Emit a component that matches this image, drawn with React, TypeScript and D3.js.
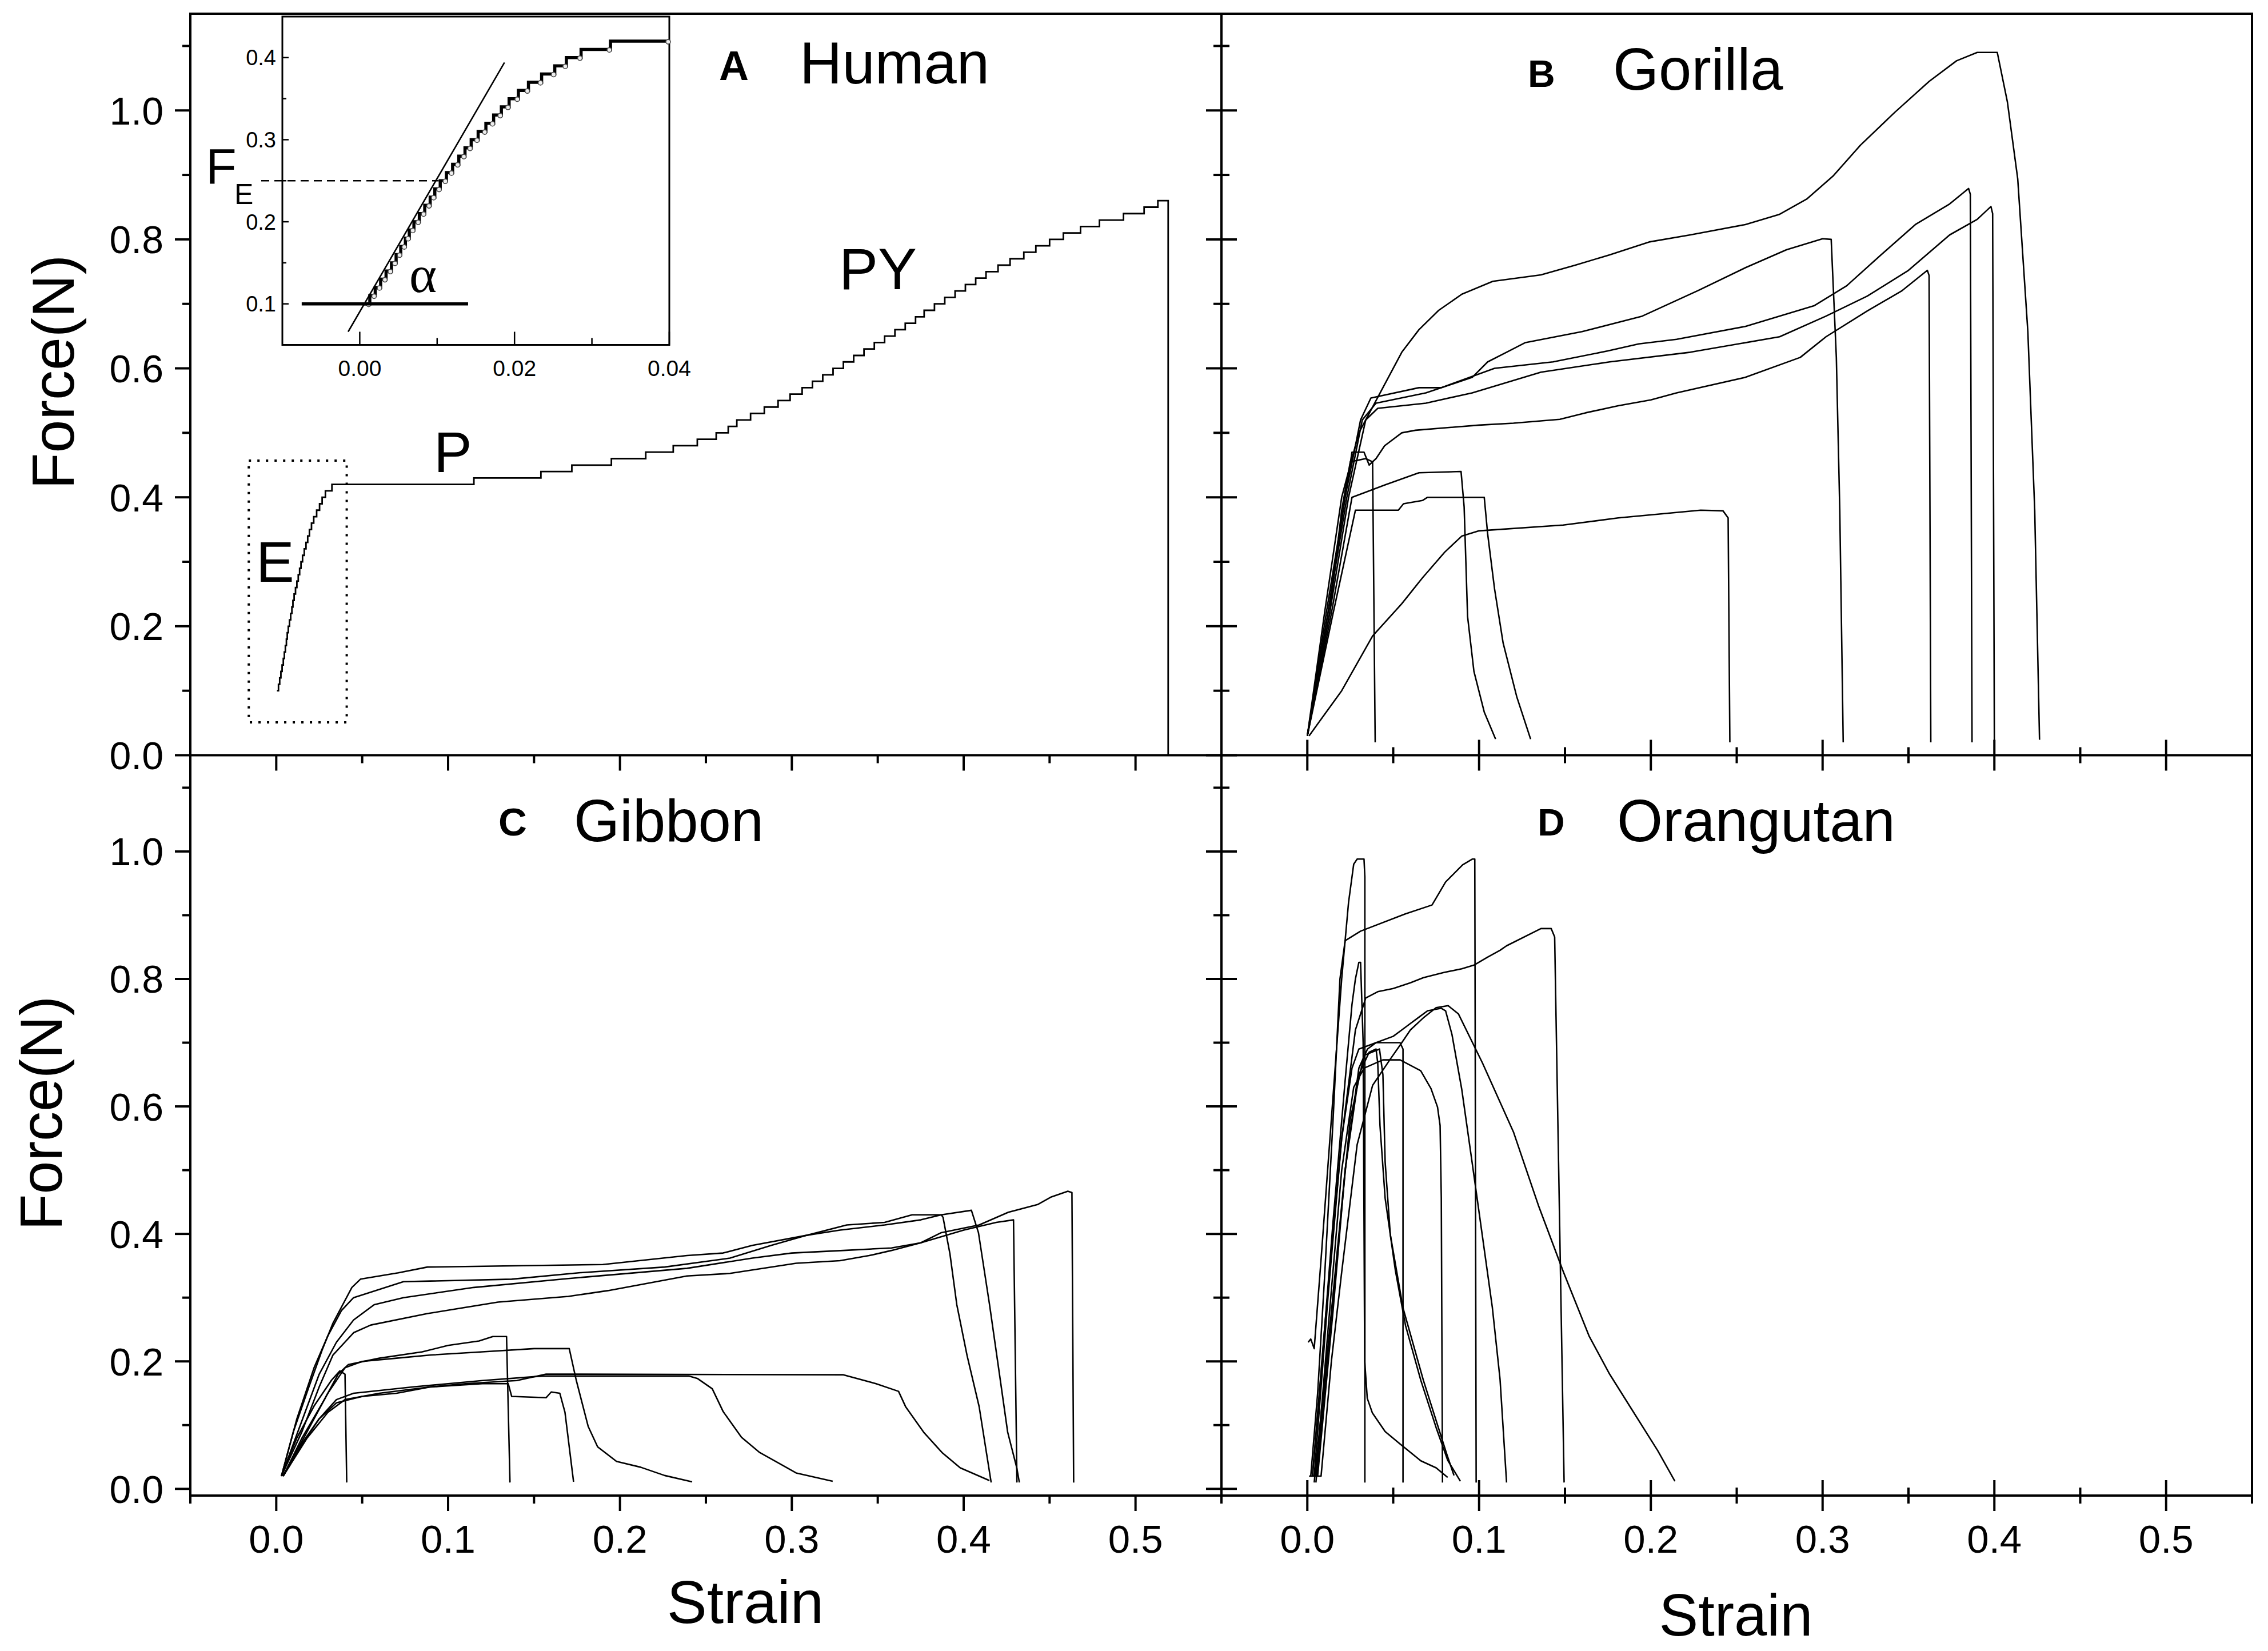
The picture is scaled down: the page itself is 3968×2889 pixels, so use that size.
import React from "react";
import * as d3 from "d3";

type Pt = [number, number];

// axis ticks
const xMajor = [0, 0.1, 0.2, 0.3, 0.4, 0.5];
const xLabels = ["0.0", "0.1", "0.2", "0.3", "0.4", "0.5"];
const xMinor = [-0.05, 0.05, 0.15, 0.25, 0.35, 0.45, 0.55];
const yMajor = [0, 0.2, 0.4, 0.6, 0.8, 1.0];
const yLabels = ["0.0", "0.2", "0.4", "0.6", "0.8", "1.0"];
const yMinor = [0.1, 0.3, 0.5, 0.7, 0.9, 1.1];

const insetXMajor = [0, 0.02, 0.04];
const insetXLabels = ["0.00", "0.02", "0.04"];
const insetXMinor = [0.01, 0.03];
const insetYMajor = [0.1, 0.2, 0.3, 0.4];
const insetYLabels = ["0.1", "0.2", "0.3", "0.4"];
const insetYMinor = [0.15, 0.25, 0.35];

// A: Human, staircase (strain where each force level starts, force)
const humanElastic: Pt[] = [
  [0.0004, 0.10], [0.0013, 0.11], [0.0020, 0.12], [0.0027, 0.13], [0.0034, 0.14],
  [0.0041, 0.15], [0.0047, 0.16], [0.0053, 0.17], [0.0059, 0.18], [0.0064, 0.19],
  [0.0070, 0.20], [0.0077, 0.21], [0.0084, 0.22], [0.0091, 0.23], [0.0097, 0.24],
  [0.0104, 0.25], [0.0112, 0.26], [0.0120, 0.27], [0.0128, 0.28], [0.0136, 0.29],
  [0.0144, 0.30], [0.0153, 0.31], [0.0163, 0.32], [0.0173, 0.33], [0.0183, 0.34],
  [0.0193, 0.35], [0.0205, 0.36], [0.0218, 0.37], [0.0235, 0.38], [0.0252, 0.39],
  [0.0267, 0.40], [0.0286, 0.41], [0.0324, 0.42],
];
const humanPlastic: Pt[] = [
  [0.115, 0.43], [0.154, 0.44], [0.172, 0.45], [0.195, 0.46], [0.215, 0.47],
  [0.231, 0.48], [0.245, 0.49], [0.256, 0.50], [0.263, 0.51], [0.268, 0.52],
  [0.276, 0.53], [0.284, 0.54], [0.292, 0.55], [0.299, 0.56], [0.306, 0.57],
  [0.312, 0.58], [0.318, 0.59], [0.324, 0.60], [0.330, 0.61], [0.336, 0.62],
  [0.342, 0.63], [0.348, 0.64], [0.354, 0.65], [0.360, 0.66], [0.366, 0.67],
  [0.372, 0.68], [0.377, 0.69], [0.383, 0.70], [0.389, 0.71], [0.395, 0.72],
  [0.401, 0.73], [0.407, 0.74], [0.413, 0.75], [0.420, 0.76], [0.427, 0.77],
  [0.435, 0.78], [0.442, 0.79], [0.450, 0.80], [0.458, 0.81], [0.468, 0.82],
  [0.479, 0.83], [0.493, 0.84], [0.505, 0.85], [0.513, 0.86], [0.519, 0.86],
  [0.519, 0.0],
];
const insetEnd: Pt = [0.04, 0.42];

// inset annotations
const tangentLine: Pt[] = [[-0.0015, 0.066], [0.0187, 0.394]];
const baseLine: Pt[] = [[-0.0075, 0.1], [0.014, 0.1]];
const feLevel = 0.25;
const feCross = 0.0102;

// B: Gorilla
const gorilla1: Pt[] = [
  [0, 0.03], [0.01, 0.22], [0.02, 0.40], [0.03, 0.50], [0.044, 0.57], [0.055, 0.625],
  [0.065, 0.66], [0.0765, 0.69], [0.09, 0.715], [0.108, 0.735], [0.136, 0.745],
  [0.156, 0.76], [0.176, 0.776], [0.199, 0.796], [0.223, 0.807], [0.255, 0.823],
  [0.275, 0.839], [0.291, 0.863], [0.306, 0.898], [0.322, 0.946], [0.342, 0.997],
  [0.362, 1.045], [0.378, 1.077], [0.39, 1.09], [0.4017, 1.09], [0.4076, 1.013],
  [0.4136, 0.894], [0.4195, 0.657], [0.4235, 0.38], [0.4263, 0.024],
];
const gorilla2: Pt[] = [
  [0, 0.03], [0.012, 0.22], [0.023, 0.40], [0.032, 0.52], [0.04, 0.546], [0.069, 0.562],
  [0.096, 0.586], [0.105, 0.61], [0.116, 0.625], [0.127, 0.64], [0.16, 0.657],
  [0.195, 0.681], [0.227, 0.72], [0.255, 0.756], [0.279, 0.784], [0.30, 0.801],
  [0.305, 0.80], [0.308, 0.617], [0.31, 0.38], [0.312, 0.02],
];
const gorilla3: Pt[] = [
  [0, 0.03], [0.011, 0.22], [0.022, 0.40], [0.031, 0.52], [0.037, 0.554], [0.065, 0.57],
  [0.078, 0.57], [0.109, 0.60], [0.143, 0.61], [0.175, 0.627], [0.193, 0.638],
  [0.215, 0.645], [0.255, 0.665], [0.295, 0.697], [0.314, 0.728], [0.334, 0.776],
  [0.354, 0.823], [0.374, 0.855], [0.385, 0.879], [0.386, 0.87], [0.387, 0.02],
];
const gorilla4: Pt[] = [
  [0, 0.03], [0.013, 0.22], [0.024, 0.40], [0.034, 0.52], [0.041, 0.538], [0.069, 0.546],
  [0.096, 0.562], [0.136, 0.594], [0.176, 0.61], [0.223, 0.625], [0.275, 0.649],
  [0.302, 0.681], [0.326, 0.712], [0.35, 0.752], [0.374, 0.807], [0.39, 0.831],
  [0.398, 0.851], [0.399, 0.84], [0.40, 0.02],
];
const gorilla5: Pt[] = [
  [0, 0.03], [0.012, 0.22], [0.022, 0.40], [0.026, 0.47], [0.033, 0.47], [0.036, 0.45],
  [0.04, 0.46], [0.045, 0.48], [0.055, 0.50], [0.063, 0.504], [0.10, 0.512],
  [0.12, 0.515], [0.147, 0.521], [0.162, 0.531], [0.181, 0.542], [0.20, 0.551],
  [0.215, 0.562], [0.255, 0.586], [0.287, 0.617], [0.302, 0.649], [0.326, 0.689],
  [0.346, 0.72], [0.361, 0.752], [0.362, 0.744], [0.363, 0.02],
];
const gorilla6: Pt[] = [
  [0.001, 0.03], [0.02, 0.10], [0.038, 0.185], [0.055, 0.235], [0.067, 0.275],
  [0.08, 0.315], [0.09, 0.34], [0.10, 0.348], [0.149, 0.357], [0.181, 0.368],
  [0.229, 0.38], [0.242, 0.379], [0.245, 0.368], [0.246, 0.02],
];
const gorilla7: Pt[] = [
  [0, 0.03], [0.013, 0.22], [0.02, 0.38], [0.025, 0.455], [0.034, 0.46], [0.038, 0.455],
  [0.0395, 0.02],
];
const gorilla8: Pt[] = [
  [0, 0.03], [0.014, 0.22], [0.026, 0.40], [0.034, 0.408], [0.045, 0.419], [0.065, 0.438],
  [0.0895, 0.44], [0.0913, 0.385], [0.0933, 0.215], [0.097, 0.13], [0.103, 0.067],
  [0.1096, 0.025],
];
const gorilla9: Pt[] = [
  [0, 0.03], [0.015, 0.22], [0.028, 0.38], [0.053, 0.38], [0.056, 0.39], [0.067, 0.395],
  [0.07, 0.40], [0.103, 0.40], [0.105, 0.343], [0.109, 0.258], [0.114, 0.174],
  [0.122, 0.09], [0.13, 0.025],
];

// C: Gibbon
const gibbon1: Pt[] = [
  [0.003, 0.02], [0.015, 0.09], [0.025, 0.16], [0.033, 0.21], [0.045, 0.245], [0.055, 0.257],
  [0.088, 0.275], [0.129, 0.293], [0.17, 0.302], [0.193, 0.311], [0.239, 0.334],
  [0.264, 0.338], [0.3025, 0.354], [0.328, 0.358], [0.345, 0.366], [0.358, 0.374],
  [0.375, 0.386], [0.387, 0.402], [0.409, 0.414], [0.426, 0.434], [0.443, 0.446],
  [0.451, 0.458], [0.4606, 0.467], [0.463, 0.465], [0.464, 0.01],
];
const gibbon2: Pt[] = [
  [0.003, 0.02], [0.014, 0.10], [0.025, 0.18], [0.035, 0.23], [0.045, 0.265], [0.057, 0.289],
  [0.074, 0.30], [0.115, 0.316], [0.17, 0.33], [0.239, 0.346], [0.277, 0.362],
  [0.30, 0.37], [0.33, 0.374], [0.358, 0.378], [0.375, 0.386], [0.40, 0.406],
  [0.419, 0.418], [0.429, 0.422], [0.431, 0.01],
];
const gibbon3: Pt[] = [
  [0.003, 0.02], [0.012, 0.11], [0.022, 0.19], [0.03, 0.24], [0.038, 0.28], [0.045, 0.30],
  [0.074, 0.325], [0.137, 0.329], [0.176, 0.339], [0.226, 0.348], [0.264, 0.362],
  [0.288, 0.382], [0.309, 0.398], [0.328, 0.406], [0.354, 0.414], [0.375, 0.422],
  [0.387, 0.43], [0.4045, 0.437], [0.4086, 0.402], [0.415, 0.29], [0.4214, 0.169],
  [0.4256, 0.089], [0.4309, 0.033], [0.4324, 0.01],
];
const gibbon4: Pt[] = [
  [0.003, 0.02], [0.01, 0.09], [0.019, 0.16], [0.027, 0.22], [0.033, 0.26], [0.044, 0.316],
  [0.049, 0.329], [0.071, 0.339], [0.088, 0.348], [0.19, 0.352], [0.239, 0.366],
  [0.26, 0.37], [0.277, 0.382], [0.309, 0.398], [0.332, 0.414], [0.354, 0.418],
  [0.37, 0.43], [0.387, 0.43], [0.388, 0.426], [0.392, 0.369], [0.396, 0.289],
  [0.402, 0.209], [0.409, 0.129], [0.416, 0.01],
];
const gibbon5: Pt[] = [
  [0.004, 0.02], [0.015, 0.08], [0.028, 0.14], [0.036, 0.18], [0.042, 0.195], [0.06, 0.205],
  [0.085, 0.215], [0.10, 0.225], [0.118, 0.232], [0.126, 0.239], [0.134, 0.239],
  [0.136, 0.01],
];
const gibbon6: Pt[] = [
  [0.004, 0.02], [0.016, 0.08], [0.03, 0.15], [0.04, 0.19], [0.05, 0.20], [0.07, 0.205],
  [0.09, 0.21], [0.12, 0.215], [0.15, 0.22], [0.1705, 0.22], [0.1746, 0.17],
  [0.1815, 0.098], [0.187, 0.066], [0.198, 0.043], [0.212, 0.034], [0.226, 0.021],
  [0.242, 0.011],
];
const gibbon7: Pt[] = [
  [0.004, 0.02], [0.015, 0.07], [0.025, 0.11], [0.035, 0.135], [0.05, 0.145], [0.07, 0.15],
  [0.09, 0.16], [0.12, 0.165], [0.135, 0.165], [0.137, 0.145], [0.157, 0.143],
  [0.16, 0.152], [0.165, 0.15], [0.168, 0.12], [0.173, 0.011],
];
const gibbon8: Pt[] = [
  [0.004, 0.02], [0.018, 0.08], [0.03, 0.12], [0.04, 0.14], [0.06, 0.15], [0.09, 0.16],
  [0.11, 0.165], [0.14, 0.17], [0.157, 0.18], [0.33, 0.179], [0.349, 0.165],
  [0.3621, 0.153], [0.3662, 0.129], [0.3767, 0.089], [0.3874, 0.057], [0.398, 0.033],
  [0.415, 0.013],
];
const gibbon9: Pt[] = [
  [0.004, 0.02], [0.012, 0.06], [0.025, 0.11], [0.035, 0.14], [0.045, 0.15], [0.08, 0.16],
  [0.12, 0.17], [0.155, 0.177], [0.24, 0.177], [0.2452, 0.173], [0.2537, 0.157],
  [0.2601, 0.121], [0.2707, 0.081], [0.2813, 0.057], [0.292, 0.041], [0.3025, 0.025],
  [0.3238, 0.012],
];
const gibbon10: Pt[] = [
  [0.003, 0.02], [0.012, 0.08], [0.022, 0.13], [0.032, 0.17], [0.037, 0.185], [0.04, 0.18],
  [0.041, 0.01],
];

// D: Orangutan
const orangutan1: Pt[] = [
  [0.0005, 0.23], [0.002, 0.235], [0.004, 0.22], [0.008, 0.36], [0.014, 0.58], [0.02, 0.80],
  [0.024, 0.92], [0.027, 0.98], [0.029, 0.988], [0.033, 0.988], [0.0335, 0.96], [0.0335, 0.01],
];
const orangutan2: Pt[] = [
  [0.003, 0.02], [0.008, 0.18], [0.015, 0.42], [0.022, 0.64], [0.026, 0.76], [0.028, 0.80],
  [0.03, 0.826], [0.031, 0.826], [0.0325, 0.70], [0.0334, 0.20], [0.0349, 0.142],
  [0.0379, 0.119], [0.0453, 0.09], [0.0542, 0.07], [0.0661, 0.044], [0.075, 0.033],
  [0.0817, 0.018],
];
const orangutan3: Pt[] = [
  [0.002, 0.02], [0.006, 0.15], [0.01, 0.33], [0.015, 0.58], [0.019, 0.80], [0.022, 0.86],
  [0.031, 0.875], [0.057, 0.902], [0.0726, 0.916], [0.0805, 0.952], [0.0904, 0.979],
  [0.096, 0.988], [0.0975, 0.988], [0.0983, 0.01],
];
const orangutan4: Pt[] = [
  [0.003, 0.02], [0.01, 0.25], [0.02, 0.55], [0.028, 0.72], [0.034, 0.77], [0.041, 0.78],
  [0.05, 0.785], [0.06, 0.794], [0.0676, 0.802], [0.0794, 0.81], [0.0899, 0.816],
  [0.0973, 0.822], [0.1048, 0.834], [0.1122, 0.845], [0.116, 0.852], [0.136, 0.879],
  [0.142, 0.879], [0.144, 0.866], [0.1495, 0.01],
];
const orangutan5: Pt[] = [
  [0.005, 0.02], [0.013, 0.28], [0.02, 0.50], [0.027, 0.63], [0.033, 0.66], [0.044, 0.673],
  [0.054, 0.673], [0.066, 0.656], [0.072, 0.628], [0.0758, 0.599], [0.0773, 0.57],
  [0.078, 0.456], [0.0787, 0.01],
];
const orangutan6: Pt[] = [
  [0.004, 0.02], [0.012, 0.30], [0.02, 0.55], [0.026, 0.66], [0.03, 0.69], [0.04, 0.70],
  [0.054, 0.70], [0.0557, 0.69], [0.0557, 0.01],
];
const orangutan7: Pt[] = [
  [0.006, 0.02], [0.015, 0.28], [0.022, 0.50], [0.03, 0.65], [0.036, 0.685], [0.04, 0.69],
  [0.041, 0.668], [0.0423, 0.57], [0.0453, 0.456], [0.0513, 0.342], [0.0572, 0.256],
  [0.0661, 0.17], [0.075, 0.096], [0.0817, 0.045], [0.0891, 0.012],
];
const orangutan8: Pt[] = [
  [0.004, 0.01], [0.013, 0.25], [0.022, 0.50], [0.03, 0.66], [0.035, 0.69], [0.04, 0.70],
  [0.05, 0.71], [0.055, 0.72], [0.06, 0.73], [0.065, 0.74], [0.07, 0.75], [0.078, 0.754],
  [0.0805, 0.75], [0.0842, 0.713], [0.0899, 0.627], [0.0959, 0.513], [0.1018, 0.399],
  [0.1077, 0.285], [0.1122, 0.172], [0.116, 0.01],
];
const orangutan9: Pt[] = [
  [0.001, 0.02], [0.008, 0.02], [0.014, 0.2], [0.02, 0.34], [0.029, 0.54], [0.038, 0.633],
  [0.048, 0.673], [0.055, 0.70], [0.06, 0.72], [0.068, 0.74], [0.075, 0.755], [0.082, 0.758],
  [0.088, 0.745], [0.102, 0.668], [0.12, 0.56], [0.1345, 0.445], [0.149, 0.341],
  [0.164, 0.24], [0.176, 0.18], [0.19, 0.12], [0.204, 0.06], [0.214, 0.012],
];
const orangutan10: Pt[] = [
  [0.005, 0.01], [0.015, 0.30], [0.025, 0.58], [0.033, 0.68], [0.042, 0.69], [0.044, 0.65],
  [0.0453, 0.513], [0.0483, 0.399], [0.0557, 0.284], [0.0676, 0.17], [0.081, 0.056],
  [0.0854, 0.021],
];

const gorillaCurves = [gorilla1, gorilla2, gorilla3, gorilla4, gorilla5, gorilla6, gorilla7, gorilla8, gorilla9];
const gibbonCurves = [gibbon1, gibbon2, gibbon3, gibbon4, gibbon5, gibbon6, gibbon7, gibbon8, gibbon9, gibbon10];
const orangutanCurves = [
  orangutan1, orangutan2, orangutan3, orangutan4, orangutan5,
  orangutan6, orangutan7, orangutan8, orangutan9, orangutan10,
];

const W = 3968;
const H = 2889;
const L = 333;
const MX = 2137;
const R = 3940;
const T = 24;
const MY = 1321.5;
const B = 2617;
const FONT = "'Liberation Sans', Arial, Helvetica, sans-serif";
const MAJ = 27;
const MIN = 14;

function Panel({ x0, x1, y0, y1, yDom, curves, stepped, leftLabels, bottomLabels, cross }: any) {
  const x = d3.scaleLinear().domain([-0.05, 0.55]).range([x0, x1]);
  const y = d3.scaleLinear().domain(yDom).range([y1, y0]);
  const lin = d3.line<Pt>().x((d) => x(d[0])).y((d) => y(d[1]));
  const stp = d3.line<Pt>().x((d) => x(d[0])).y((d) => y(d[1])).curve(d3.curveStepAfter);

  const yTick = (v: number, len: number, i: string) => (
    <line key={i} x1={x0 - len} x2={cross ? x0 + len : x0} y1={y(v)} y2={y(v)} stroke="#000" strokeWidth={4} />
  );
  const xTick = (v: number, len: number, i: string) => (
    <line key={i} x1={x(v)} x2={x(v)} y1={cross ? y1 - len : y1} y2={y1 + len} stroke="#000" strokeWidth={4} />
  );

  return (
    <g>
      {curves.map((c: Pt[], i: number) => (
        <path key={"c" + i} d={lin(c) || ""} fill="none" stroke="#000" strokeWidth={2.6} strokeLinejoin="round" />
      ))}
      {stepped &&
        stepped.map((c: Pt[], i: number) => (
          <path key={"s" + i} d={stp(c) || ""} fill="none" stroke="#000" strokeWidth={2.8} />
        ))}
      {yMajor.map((v, i) => yTick(v, MAJ, "ym" + i))}
      {yMinor.map((v, i) => yTick(v, MIN, "yn" + i))}
      {xMajor.map((v, i) => xTick(v, MAJ, "xm" + i))}
      {xMinor.map((v, i) => xTick(v, MIN, "xn" + i))}
      {leftLabels &&
        yMajor.map((v, i) => (
          <text key={"yl" + i} x={286} y={y(v)} dy="0.36em" textAnchor="end" fontSize={68} fontFamily={FONT}>
            {yLabels[i]}
          </text>
        ))}
      {bottomLabels &&
        xMajor.map((v, i) => (
          <text key={"xl" + i} x={x(v)} y={2717} textAnchor="middle" fontSize={69} fontFamily={FONT}>
            {xLabels[i]}
          </text>
        ))}
    </g>
  );
}

function Inset() {
  const x0 = 494;
  const x1 = 1171;
  const y0 = 29;
  const y1 = 603.5;
  const xi = d3.scaleLinear().domain([-0.01, 0.04]).range([x0, x1]);
  const yi = d3.scaleLinear().domain([0.05, 0.45]).range([y1, y0]);
  const data: Pt[] = [...humanElastic, insetEnd];
  const stp = d3.line<Pt>().x((d) => xi(d[0])).y((d) => yi(d[1])).curve(d3.curveStepAfter);
  const lin = d3.line<Pt>().x((d) => xi(d[0])).y((d) => yi(d[1]));
  const marks: Pt[] = [];
  data.forEach((d, i) => {
    if (i < data.length - 1) marks.push([data[i + 1][0], d[1]]);
  });
  return (
    <g>
      <rect x={x0} y={y0} width={x1 - x0} height={y1 - y0} fill="#fff" stroke="#000" strokeWidth={3} />
      {insetYMajor.map((v, i) => (
        <line key={"a" + i} x1={x0} x2={x0 + 11} y1={yi(v)} y2={yi(v)} stroke="#000" strokeWidth={2.5} />
      ))}
      {insetYMinor.map((v, i) => (
        <line key={"b" + i} x1={x0} x2={x0 + 7} y1={yi(v)} y2={yi(v)} stroke="#000" strokeWidth={2.5} />
      ))}
      {insetXMajor.map((v, i) => (
        <line key={"c" + i} x1={xi(v)} x2={xi(v)} y1={y1} y2={y1 - 23} stroke="#000" strokeWidth={2.5} />
      ))}
      {insetXMinor.map((v, i) => (
        <line key={"d" + i} x1={xi(v)} x2={xi(v)} y1={y1} y2={y1 - 12} stroke="#000" strokeWidth={2.5} />
      ))}
      {insetYMajor.map((v, i) => (
        <text key={"e" + i} x={483} y={yi(v)} dy="0.36em" textAnchor="end" fontSize={38} fontFamily={FONT}>
          {insetYLabels[i]}
        </text>
      ))}
      {insetXMajor.map((v, i) => (
        <text key={"f" + i} x={xi(v)} y={658} textAnchor="middle" fontSize={39} fontFamily={FONT}>
          {insetXLabels[i]}
        </text>
      ))}
      <path d={stp(data) || ""} fill="none" stroke="#000" strokeWidth={5.5} />
      {marks.map((d, i) => (
        <circle key={"m" + i} cx={xi(d[0]) - 2} cy={yi(d[1]) + 1} r={4} fill="#eee" stroke="#444" strokeWidth={1.6} />
      ))}
      <path d={lin(tangentLine) || ""} stroke="#000" strokeWidth={2.6} fill="none" />
      <path d={lin(baseLine) || ""} stroke="#000" strokeWidth={5.5} fill="none" />
      <line x1={457} x2={xi(feCross)} y1={yi(feLevel)} y2={yi(feLevel)} stroke="#000" strokeWidth={2.6} strokeDasharray="14,9" />
      <text x={716} y={511} fontSize={92} fontFamily="'Liberation Serif', 'Times New Roman', serif">
        α
      </text>
    </g>
  );
}

export default function App() {
  const xA = d3.scaleLinear().domain([-0.05, 0.55]).range([L, MX]);
  const yA = d3.scaleLinear().domain([0, 1.15]).range([MY, T]);
  const boxPts: Pt[] = [[-0.016, 0.051], [0.041, 0.457]];
  return (
    <svg
      width={W}
      height={H}
      viewBox={`0 0 ${W} ${H}`}
      style={{ position: "absolute", left: 0, top: 0, background: "#fff" }}
    >
      <rect x={0} y={0} width={W} height={H} fill="#fff" />
      <Panel x0={L} x1={MX} y0={T} y1={MY} yDom={[0, 1.15]} curves={[]} stepped={[[...humanElastic, ...humanPlastic]]} leftLabels cross={false} />
      <Panel x0={MX} x1={R} y0={T} y1={MY} yDom={[0, 1.15]} curves={gorillaCurves} cross />
      <Panel x0={L} x1={MX} y0={MY} y1={B} yDom={[-0.0105, 1.151]} curves={gibbonCurves} leftLabels bottomLabels cross={false} />
      <Panel x0={MX} x1={R} y0={MY} y1={B} yDom={[-0.0105, 1.151]} curves={orangutanCurves} bottomLabels cross />

      <rect x={L} y={T} width={R - L} height={B - T} fill="none" stroke="#000" strokeWidth={4} />
      <line x1={MX} x2={MX} y1={T} y2={B} stroke="#000" strokeWidth={4} />
      <line x1={L} x2={R} y1={MY} y2={MY} stroke="#000" strokeWidth={4} />

      <rect
        x={xA(boxPts[0][0])}
        y={yA(boxPts[1][1])}
        width={xA(boxPts[1][0]) - xA(boxPts[0][0])}
        height={yA(boxPts[0][1]) - yA(boxPts[1][1])}
        fill="none"
        stroke="#000"
        strokeWidth={4}
        strokeDasharray="4,11"
      />
      <Inset />

      <text x={360} y={321} fontSize={88} fontFamily={FONT}>F</text>
      <text x={410} y={357} fontSize={50} fontFamily={FONT}>E</text>
      <text x={448} y={1018} fontSize={100} fontFamily={FONT}>E</text>
      <text x={759} y={826} fontSize={100} fontFamily={FONT}>P</text>
      <text x={1468} y={506} fontSize={102} fontFamily={FONT}>PY</text>

      <text x={1258} y={140} fontSize={72} fontWeight="bold" fontFamily={FONT}>A</text>
      <text x={1399} y={146} fontSize={103} fontFamily={FONT}>Human</text>
      <text x={2673} y={152} fontSize={66} fontWeight="bold" fontFamily={FONT}>B</text>
      <text x={2822} y={157} fontSize={103} fontFamily={FONT}>Gorilla</text>
      <text x={872} y={1462} fontSize={69} fontWeight="bold" fontFamily={FONT}>C</text>
      <text x={1004} y={1472} fontSize={103} fontFamily={FONT}>Gibbon</text>
      <text x={2690} y={1462} fontSize={66} fontWeight="bold" fontFamily={FONT}>D</text>
      <text x={2829} y={1472} fontSize={103} fontFamily={FONT}>Orangutan</text>

      <text transform="translate(129,651) rotate(-90)" textAnchor="middle" fontSize={104} fontFamily={FONT}>
        Force(N)
      </text>
      <text transform="translate(108,1948) rotate(-90)" textAnchor="middle" fontSize={104} fontFamily={FONT}>
        Force(N)
      </text>
      <text x={1304} y={2840} textAnchor="middle" fontSize={105} fontFamily={FONT}>Strain</text>
      <text x={3037} y={2862} textAnchor="middle" fontSize={103} fontFamily={FONT}>Strain</text>
    </svg>
  );
}
